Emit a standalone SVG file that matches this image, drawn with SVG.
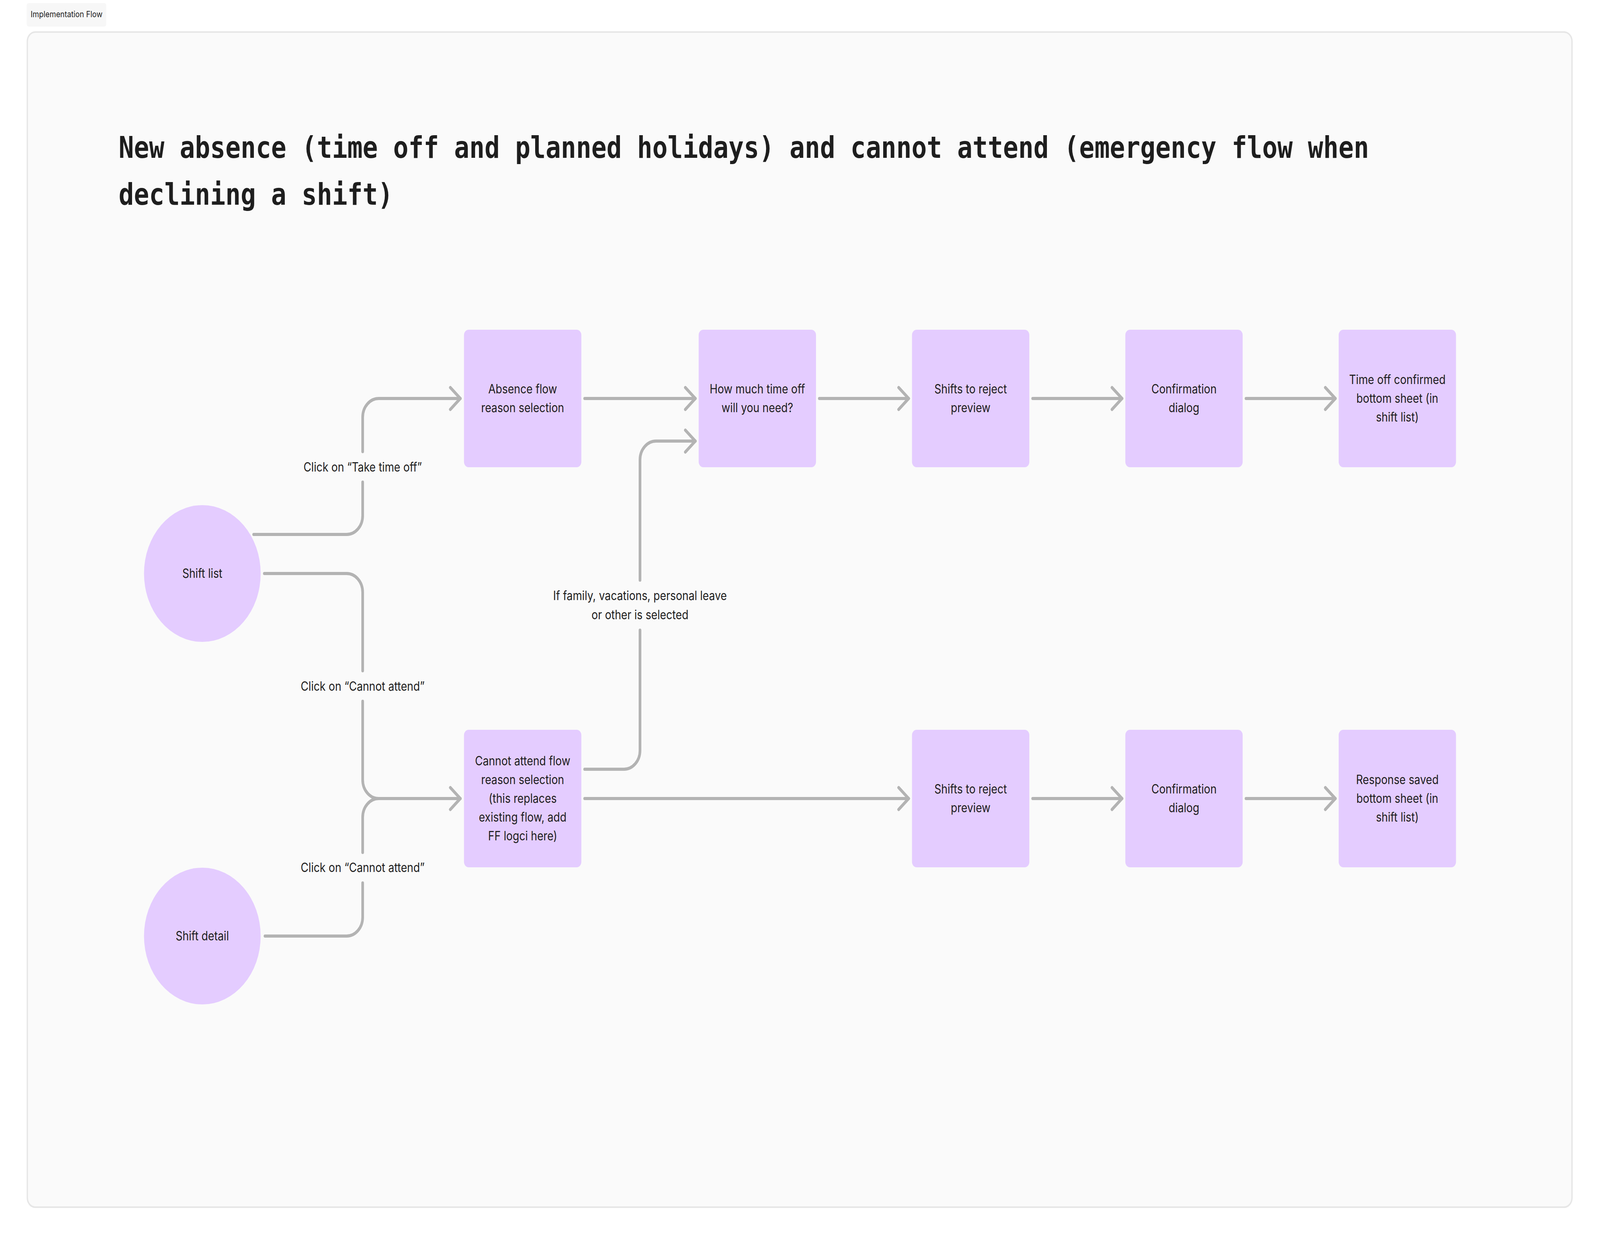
<svg xmlns="http://www.w3.org/2000/svg" width="4800" height="3174" viewBox="0 0 4800 3174" preserveAspectRatio="none">
<defs>
<style>
svg{width:100vw;height:100vh;display:block}
.node{fill:#e4ccff}
.nt{font-family:Inter,"Noto Sans","Liberation Sans",sans-serif;font-size:32px;fill:#1e1e1e;text-anchor:middle}
.lbl{font-family:Inter,"Noto Sans","Liberation Sans",sans-serif;font-size:32px;fill:#1e1e1e;text-anchor:middle}
.edge{fill:none;stroke:#b3b3b3;stroke-width:8;stroke-linecap:round;stroke-linejoin:round}
.title{font-family:"DejaVu Sans Mono","Liberation Mono",monospace;font-size:76px;font-weight:bold;fill:#1e1e1e}
</style>
<marker id="chev" markerUnits="userSpaceOnUse" viewBox="-40 -40 50 80" refX="0" refY="0" markerWidth="50" markerHeight="80" orient="auto" overflow="visible">
<path d="M -30 -28 L 0 0 L -30 28" fill="none" stroke="#b3b3b3" stroke-width="8" stroke-linecap="round" stroke-linejoin="round"/>
</marker>
</defs>
<rect x="0" y="0" width="4800" height="3174" fill="#ffffff"/>
<g id="tag">
<rect x="80" y="8" width="239" height="60" rx="6" fill="#f7f7f7"/>
<text x="92" y="44" font-family="Inter,'Noto Sans','Liberation Sans',sans-serif" font-size="22" fill="#1e1e1e">Implementation Flow</text>
</g>
<g id="frame">
<rect x="82" y="82" width="4634" height="3008" rx="24" fill="#fafafa" stroke="#e6e6e6" stroke-width="4"/>
</g>
<g id="title">
<text class="title" x="356" y="404">New absence (time off and planned holidays) and cannot attend (emergency flow when</text>
<text class="title" x="356" y="524">declining a shift)</text>
</g>
<g id="connectors">
<path class="edge" d="M 761 1368 H 1040 A 48 48 0 0 0 1088 1320 V 1234"/>
<path class="edge" d="M 1088 1156 V 1068 A 48 48 0 0 1 1136 1020 H 1381" marker-end="url(#chev)"/>
<path class="edge" d="M 793 1468 H 1040 A 48 48 0 0 1 1088 1516 V 1717"/>
<path class="edge" d="M 1088 1795 V 1996 A 48 48 0 0 0 1136 2044 H 1381" marker-end="url(#chev)"/>
<path class="edge" d="M 795 2396 H 1040 A 48 48 0 0 0 1088 2348 V 2260"/>
<path class="edge" d="M 1088 2182 V 2092 A 48 48 0 0 1 1136 2044"/>
<path class="edge" d="M 1754 1020 H 2086" marker-end="url(#chev)"/>
<path class="edge" d="M 1754 1969 H 1872 A 48 48 0 0 0 1920 1921 V 1613"/>
<path class="edge" d="M 1920 1485 V 1177 A 48 48 0 0 1 1968 1129 H 2086" marker-end="url(#chev)"/>
<path class="edge" d="M 2458 1020 H 2726" marker-end="url(#chev)"/>
<path class="edge" d="M 3098 1020 H 3366" marker-end="url(#chev)"/>
<path class="edge" d="M 3738 1020 H 4006" marker-end="url(#chev)"/>
<path class="edge" d="M 1754 2044 H 2726" marker-end="url(#chev)"/>
<path class="edge" d="M 3098 2044 H 3366" marker-end="url(#chev)"/>
<path class="edge" d="M 3738 2044 H 4006" marker-end="url(#chev)"/>
<text class="lbl" x="1088" y="1207">Click on “Take time off”</text>
<text class="lbl" x="1088" y="1768">Click on “Cannot attend”</text>
<text class="lbl" x="1088" y="2232">Click on “Cannot attend”</text>
<text class="lbl" x="1920" y="1536">If family, vacations, personal leave</text>
<text class="lbl" x="1920" y="1585">or other is selected</text>
</g>
<g id="shift-list">
<circle class="node" cx="607" cy="1468" r="175"/>
<text class="nt" x="607" y="1479">Shift list</text>
</g>
<g id="shift-detail">
<circle class="node" cx="607" cy="2396" r="175"/>
<text class="nt" x="607" y="2407">Shift detail</text>
</g>
<g id="absence-reason">
<rect class="node" x="1392" y="844" width="352" height="352" rx="14"/>
<text class="nt" x="1568" y="1007">Absence flow</text>
<text class="nt" x="1568" y="1055">reason selection</text>
</g>
<g id="how-much">
<rect class="node" x="2096" y="844" width="352" height="352" rx="14"/>
<text class="nt" x="2272" y="1007">How much time off</text>
<text class="nt" x="2272" y="1055">will you need?</text>
</g>
<g id="shifts-reject-1">
<rect class="node" x="2736" y="844" width="352" height="352" rx="14"/>
<text class="nt" x="2912" y="1007">Shifts to reject</text>
<text class="nt" x="2912" y="1055">preview</text>
</g>
<g id="confirmation-1">
<rect class="node" x="3376" y="844" width="352" height="352" rx="14"/>
<text class="nt" x="3552" y="1007">Confirmation</text>
<text class="nt" x="3552" y="1055">dialog</text>
</g>
<g id="time-off-confirmed">
<rect class="node" x="4016" y="844" width="352" height="352" rx="14"/>
<text class="nt" x="4192" y="983">Time off confirmed</text>
<text class="nt" x="4192" y="1031">bottom sheet (in</text>
<text class="nt" x="4192" y="1079">shift list)</text>
</g>
<g id="cannot-attend-reason">
<rect class="node" x="1392" y="1868" width="352" height="352" rx="14"/>
<text class="nt" x="1568" y="1959">Cannot attend flow</text>
<text class="nt" x="1568" y="2007">reason selection</text>
<text class="nt" x="1568" y="2055">(this replaces</text>
<text class="nt" x="1568" y="2103">existing flow, add</text>
<text class="nt" x="1568" y="2151">FF logci here)</text>
</g>
<g id="shifts-reject-2">
<rect class="node" x="2736" y="1868" width="352" height="352" rx="14"/>
<text class="nt" x="2912" y="2031">Shifts to reject</text>
<text class="nt" x="2912" y="2079">preview</text>
</g>
<g id="confirmation-2">
<rect class="node" x="3376" y="1868" width="352" height="352" rx="14"/>
<text class="nt" x="3552" y="2031">Confirmation</text>
<text class="nt" x="3552" y="2079">dialog</text>
</g>
<g id="response-saved">
<rect class="node" x="4016" y="1868" width="352" height="352" rx="14"/>
<text class="nt" x="4192" y="2007">Response saved</text>
<text class="nt" x="4192" y="2055">bottom sheet (in</text>
<text class="nt" x="4192" y="2103">shift list)</text>
</g>
</svg>
